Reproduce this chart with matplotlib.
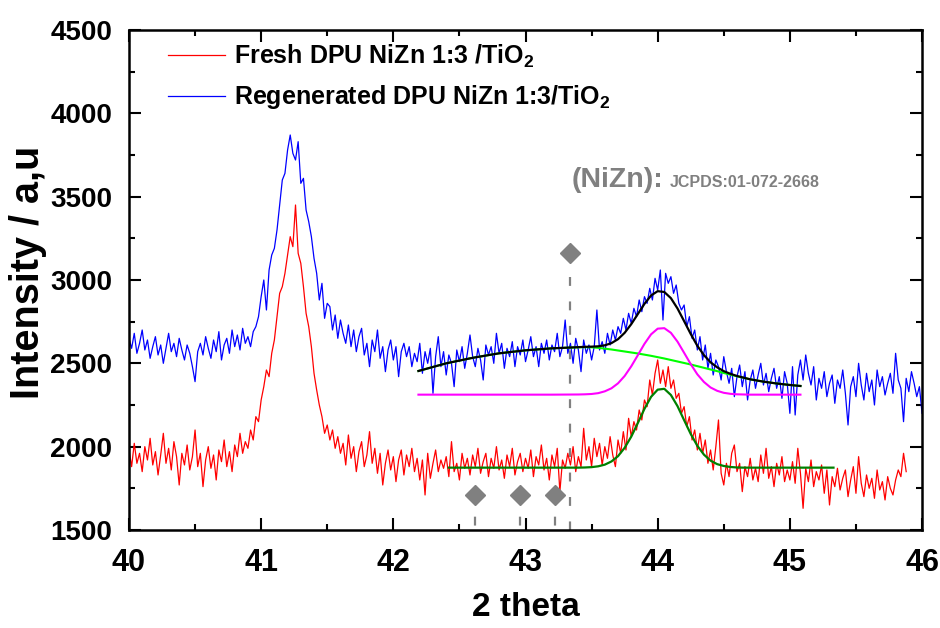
import matplotlib
matplotlib.use('Agg')
import matplotlib.pyplot as plt
import numpy as np
from matplotlib.ticker import MultipleLocator

# XRD scan grid
scan_start = 40.0
scan_step = 0.02

# Regenerated DPU NiZn 1:3/TiO2 (blue trace)
regen_counts = [
    2650, 2590, 2680, 2560, 2620, 2700, 2580, 2640, 2530, 2600,
    2660, 2550, 2610, 2500, 2590, 2680, 2570, 2620, 2540, 2650,
    2580, 2520, 2610, 2560, 2480, 2390, 2570, 2620, 2550, 2660,
    2590, 2530, 2640, 2570, 2690, 2520, 2610, 2650, 2560, 2700,
    2600, 2670, 2580, 2710, 2620, 2660, 2600, 2690, 2720, 2780,
    2900, 3000, 2820, 3060, 3150, 3190, 3300, 3450, 3600, 3640,
    3780, 3870, 3760, 3720, 3830, 3580, 3610, 3420, 3350, 3260,
    3130, 3040, 2880, 2980, 2770, 2860, 2840, 2700, 2790, 2650,
    2760, 2680, 2620, 2730, 2600, 2700, 2570, 2660, 2710, 2550,
    2620, 2480, 2640, 2570, 2700, 2530, 2600, 2450, 2580, 2640,
    2520, 2600, 2420, 2570, 2620, 2540, 2600, 2480, 2560, 2510,
    2620, 2440, 2570, 2500, 2590, 2320, 2540, 2660, 2480, 2570,
    2430, 2550, 2500, 2360, 2580, 2510, 2600, 2470, 2560, 2670,
    2540, 2480, 2590, 2520, 2400, 2610, 2550, 2600, 2500, 2680,
    2560, 2620, 2470, 2590, 2540, 2630, 2480, 2600, 2550, 2640,
    2510, 2580, 2660, 2540, 2600, 2480, 2620, 2560, 2640, 2520,
    2610, 2570, 2680, 2540, 2600, 2760, 2560, 2620, 2500, 2650,
    2580, 2450, 2640, 2560, 2610, 2520, 2600, 2820, 2580, 2630,
    2560, 2680, 2610, 2700, 2640, 2720, 2680, 2770, 2700, 2800,
    2740, 2830, 2780, 2880, 2810, 2900, 2860, 2950, 2880, 3010,
    2940, 3060, 2760, 3040, 2980, 3020, 2920, 2970, 2860, 2820,
    2850, 2720, 2780, 2650, 2700, 2580, 2660, 2520, 2610, 2470,
    2560, 2430, 2520, 2480, 2400, 2540, 2450, 2380, 2470, 2300,
    2420, 2490, 2360, 2450, 2280, 2400, 2460, 2350, 2430, 2500,
    2370, 2440, 2330, 2410, 2470, 2350, 2420, 2290, 2450, 2380,
    2200, 2480, 2190, 2430, 2520, 2400, 2550, 2440, 2370, 2480,
    2280, 2410, 2350, 2450, 2300, 2380, 2430, 2260, 2400, 2350,
    2460, 2320, 2130, 2360, 2420, 2300, 2500, 2370, 2280, 2440,
    2330, 2400, 2250, 2460, 2360, 2420, 2310, 2380, 2440, 2320,
    2560, 2400, 2350, 2150, 2410, 2330, 2450, 2380, 2300, 2360,
    2200,
]

# Fresh DPU NiZn 1:3 /TiO2 (red trace)
fresh_counts = [
    1980, 1880, 2020, 1900, 1960, 1850, 2000, 1920, 2050, 1890,
    1970, 1830, 1950, 2080, 1900, 1990, 1860, 2030, 1940, 1770,
    1960, 1890, 2010, 1860, 1940, 2100, 1880, 1960, 1760, 1920,
    2000, 1870, 1950, 1800, 1980, 1910, 2040, 1880, 1970, 1850,
    2010, 1940, 2080, 1960, 2030, 1990, 2100, 2040, 2180, 2150,
    2280, 2360, 2460, 2420, 2560, 2640, 2780, 2920, 2960, 3040,
    3150, 3260, 3200, 3450, 3160, 3100, 2960, 2800, 2720, 2600,
    2440, 2340, 2250, 2180, 2080, 2130, 2040, 2100, 1990, 2060,
    1960, 2020, 1890, 2070, 1930, 2000, 1850, 1970, 2030, 1880,
    1950, 2090, 1900, 1990, 1840, 1960, 1770, 1900, 1980, 1860,
    1940, 1790, 1920, 1980, 1830, 1950, 1880, 1990, 1850, 1930,
    1800, 1920, 1710, 1960, 1810, 1900, 1980, 1850, 1920, 1870,
    1940, 1820, 2030, 1850, 1900, 1800, 1960, 1870, 1930, 1830,
    1950, 1880, 1990, 1840, 1910, 1960, 1820, 1930, 1870, 2000,
    1860, 1920, 1810, 1950, 1880, 1990, 1830, 1910, 1960, 1850,
    1930, 1870, 1980, 1820, 1940, 1890, 2010, 1860, 1930, 1800,
    1950, 1880, 1990, 1730, 1920, 1870, 1960, 1890, 2000, 1850,
    1940, 1880, 2110, 1920, 2000, 1880, 2050, 1940, 2020, 1890,
    2000, 1930, 2060, 1950, 1880, 2040, 1960, 2090, 1980, 2170,
    2060, 2150, 2100, 2220, 2160, 2280, 2240, 2400, 2310, 2440,
    2520, 2380, 2460, 2360, 2480, 2350, 2400, 2290, 2320, 2200,
    2240, 2120, 2180, 2040, 2100, 1980, 2080, 1960, 2040, 1900,
    1980, 1860, 2000, 2160, 1840, 1770, 1900, 1820, 1960, 2010,
    1850, 1900, 1730, 1880, 1820, 1930, 1800, 1870, 1790, 1950,
    1840, 1990, 1810, 1880, 1760, 1900, 1830, 1940, 1790, 1860,
    1800, 1910, 1780, 1990, 1840, 1630, 1870, 1790, 1920, 1760,
    1850, 1800, 1890, 1720, 1860, 1650, 1820, 1760, 1870, 1740,
    1810, 1860, 1700, 1800, 1880, 1720, 1940, 1780, 1700, 1830,
    1750, 1810, 1690, 1860, 1740, 1790, 1680, 1820, 1750, 1710,
    1800, 1860, 1820, 1960, 1850,
]

# peak fit of the regenerated sample
fit_x_regen = [
    42.19, 42.40, 42.60, 42.80, 43.00, 43.20,
    43.40, 43.45, 43.50, 43.55, 43.60, 43.65, 43.70, 43.75, 43.80,
    43.85, 43.90, 43.95, 44.00, 44.05, 44.10, 44.15, 44.20, 44.25,
    44.30, 44.35, 44.40, 44.45, 44.50, 44.55, 44.60, 44.65, 44.70,
    44.80, 44.90, 45.00, 45.08,
]
regen_fit_total = [
    2454, 2500, 2533, 2560, 2578, 2590,
    2597, 2599, 2600, 2602, 2608, 2621, 2645, 2683, 2735,
    2796, 2857, 2907, 2933, 2928, 2891, 2829, 2753, 2676,
    2605, 2549, 2506, 2476, 2453, 2437, 2424, 2414, 2404,
    2390, 2379, 2370, 2364,
]
regen_fit_peak = [
    2312, 2312, 2312, 2312, 2312, 2312,
    2313, 2314, 2316, 2321, 2332, 2350, 2380, 2424, 2482,
    2549, 2617, 2674, 2708, 2711, 2683, 2630, 2563, 2495,
    2434, 2388, 2355, 2335, 2323, 2317, 2314, 2313, 2312,
    2312, 2312, 2312, 2312,
]
regen_fit_background = [
    2454, 2500, 2533, 2560, 2578, 2590,
    2596, 2597, 2596, 2593, 2588, 2583, 2577, 2571, 2565,
    2559, 2552, 2545, 2537, 2529, 2520, 2511, 2502, 2493,
    2483, 2473, 2463, 2453, 2442, 2432, 2422, 2413, 2404,
    2390, 2379, 2370, 2364,
]

# peak fit of the fresh sample
fit_x_fresh = [
    42.42, 43.00,
    43.40, 43.45, 43.50, 43.55, 43.60, 43.65, 43.70, 43.75, 43.80,
    43.85, 43.90, 43.95, 44.00, 44.05, 44.10, 44.15, 44.20, 44.25,
    44.30, 44.35, 44.40, 44.45, 44.50, 44.55, 44.60, 44.65, 44.70,
    45.33,
]
fresh_fit_total = [
    1874, 1874,
    1874, 1875, 1877, 1882, 1892, 1911, 1943, 1993, 2060,
    2142, 2227, 2299, 2342, 2347, 2310, 2243, 2159, 2076,
    2005, 1952, 1916, 1895, 1884, 1878, 1875, 1874, 1874,
    1874,
]

# NiZn reference reflections (JCPDS 01-072-2668)
ref_top_x = [43.34]
ref_top_y = [3160]
ref_low_x = [42.62, 42.96, 43.22]
ref_low_y = [1710, 1710, 1710]


def main():
    plt.rcParams['font.family'] = ['Liberation Sans', 'DejaVu Sans']
    plt.rcParams['font.weight'] = 'bold'
    plt.rcParams['mathtext.fontset'] = 'custom'
    plt.rcParams['mathtext.rm'] = 'Liberation Sans:bold'
    plt.rcParams['mathtext.bf'] = 'Liberation Sans:bold'
    plt.rcParams['mathtext.it'] = 'Liberation Sans:bold'

    fig = plt.figure(figsize=(9.4, 6.28), dpi=100)
    ax = fig.add_axes([0.1372, 0.1561, 0.8437, 0.7961])

    x_regen = scan_start + scan_step * np.arange(len(regen_counts))
    x_fresh = scan_start + scan_step * np.arange(len(fresh_counts))

    ax.plot(x_fresh, fresh_counts, color='#ff0000', lw=0.9,
            label='Fresh DPU NiZn 1:3 /TiO$_2$')
    ax.plot(x_regen, regen_counts, color='#0000ff', lw=0.9,
            label='Regenerated DPU NiZn 1:3/TiO$_2$')

    ax.plot(fit_x_regen, regen_fit_background, color='#00ff00', lw=1.5)
    ax.plot(fit_x_regen, regen_fit_peak, color='#ff00ff', lw=1.5)
    ax.plot(fit_x_regen, regen_fit_total, color='black', lw=1.6)
    ax.plot(fit_x_fresh, fresh_fit_total, color='#008000', lw=1.6)

    gray = '#808080'
    ax.vlines(ref_top_x, [v - 140 for v in ref_top_y], 1500, colors=gray,
              lw=1.6, linestyles=(0, (4, 7)))
    ax.vlines(ref_low_x, 1500, [v - 60 for v in ref_low_y], colors=gray,
              lw=1.6, linestyles=(9, (4, 7)))
    ax.plot(ref_top_x, ref_top_y, 'D', color=gray, ms=10.5, mec=gray)
    ax.plot(ref_low_x, ref_low_y, 'D', color=gray, ms=10.5, mec=gray)

    ax.text(43.352, 3558, '(NiZn):', color=gray, fontsize=20.5,
            fontweight='bold', va='baseline')
    ax.text(44.093, 3558, 'JCPDS:01-072-2668', color=gray, fontsize=11.5,
            fontweight='bold', va='baseline')

    ax.set_xlim(40, 46)
    ax.set_ylim(1500, 4500)
    ax.xaxis.set_major_locator(MultipleLocator(1))
    ax.xaxis.set_minor_locator(MultipleLocator(0.5))
    ax.yaxis.set_major_locator(MultipleLocator(500))
    ax.yaxis.set_minor_locator(MultipleLocator(250))
    ax.tick_params(which='both', direction='in', top=True, right=True, width=1.5)
    ax.tick_params(which='major', length=8.5, pad=12)
    ax.tick_params(which='minor', length=4.5)
    ax.tick_params(axis='y', labelsize=20)
    ax.tick_params(axis='x', labelsize=22, pad=13)
    for spine in ax.spines.values():
        spine.set_linewidth(1.8)

    ax.set_xlabel('2 theta', fontsize=24, fontweight='bold')
    ax.set_ylabel('Intensity / a,u', fontsize=28.5, fontweight='bold')
    ax.xaxis.set_label_coords(0.5, -0.124)
    ax.yaxis.set_label_coords(-0.103, 0.516)

    ax.legend(loc='upper left', bbox_to_anchor=(0.049, 0.975), frameon=False,
              fontsize=18, handlelength=2.3, handletextpad=0.35,
              labelspacing=0.55, borderpad=0, borderaxespad=0)

    fig.savefig('out.png', dpi=100)


if __name__ == '__main__':
    main()
